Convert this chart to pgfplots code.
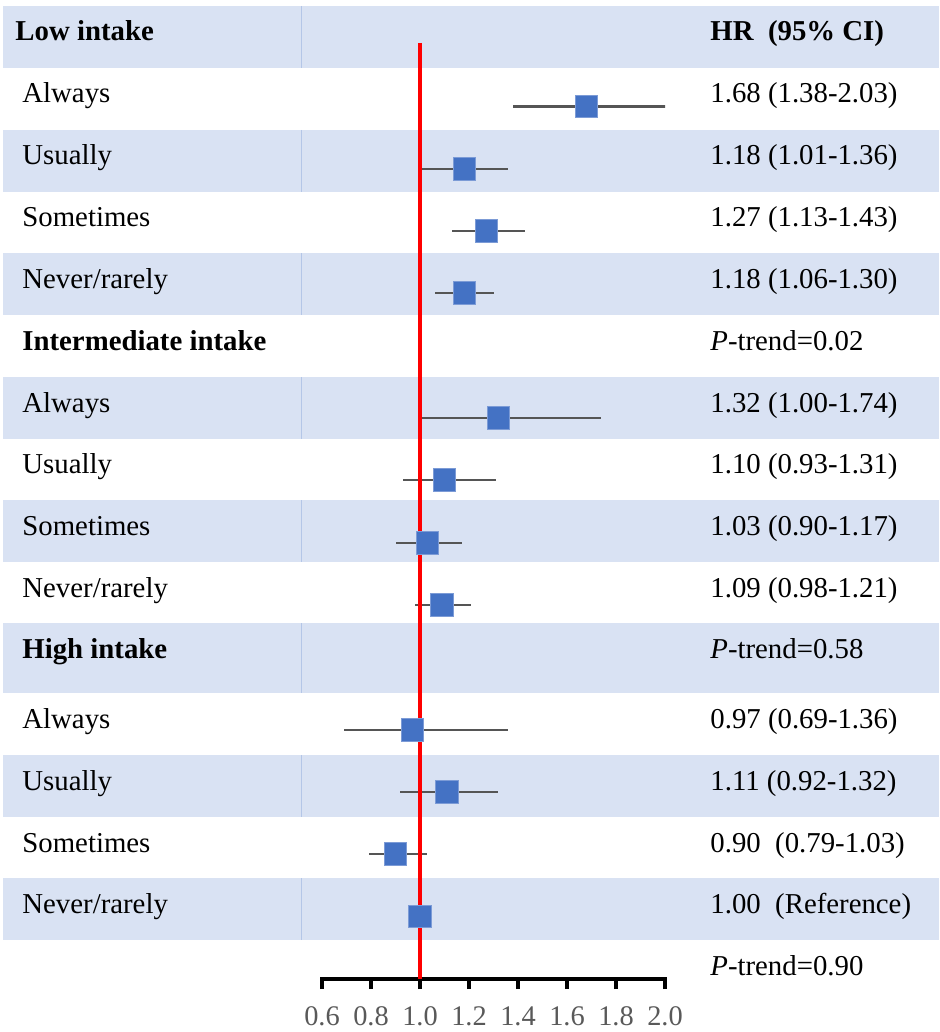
\documentclass[border=0pt]{standalone}
\usepackage{pgfplots}
\usepackage{pgfplotstable}
\pgfplotsset{compat=1.18}
\usepackage{fontspec}
\setmainfont{Liberation Serif}

\definecolor{rowshade}{HTML}{D9E2F3}
\definecolor{rowrule}{HTML}{B4C6E7}
\definecolor{markblue}{HTML}{4472C4}
\definecolor{markedge}{HTML}{7C9BD6}
\definecolor{bargray}{HTML}{555555}
\definecolor{tickgray}{HTML}{595959}

% hazard ratios: pos = vertical position of the row (from the top), hr, lower and upper CI
\pgfplotstableread{
pos    hr    lo    hi
106.5  1.68  1.38  2.03
169    1.18  1.01  1.36
231    1.27  1.13  1.43
293    1.18  1.06  1.30
418    1.32  1.00  1.74
480    1.10  0.93  1.31
543    1.03  0.90  1.17
605    1.09  0.98  1.21
730    0.97  0.69  1.36
792    1.11  0.92  1.32
854    0.90  0.79  1.03
916.5  1.00  1.00  1.00
}\hrdata

\newcommand{\rowfont}{\fontsize{14.4}{14.4}\selectfont}

\begin{document}
\begin{tikzpicture}
\useasboundingbox (0,0) rectangle (469.5pt,-516pt);

\begin{scope}[x=0.5pt,y=-0.5pt]
  % shaded table rows
  \foreach \t/\b in {6/68,130/192,253/315,377/439,500/562,623/693,755/817,878/940}{
    \fill[rowshade] (3,\t) rectangle (939,\b);
    \draw[rowrule, line width=0.5pt] (301.5,\t) -- (301.5,\b);
  }
  \begin{scope}[every node/.style={anchor=base west, inner sep=0pt, font=\rowfont}]
    % left column
    \node at (15,41)  {\bfseries Low intake};
    \node at (22,103) {Always};
    \node at (22,165) {Usually};
    \node at (22,227) {Sometimes};
    \node at (22,288) {Never/rarely};
    \node at (22,350) {\bfseries Intermediate intake};
    \node at (22,412) {Always};
    \node at (22,473) {Usually};
    \node at (22,535) {Sometimes};
    \node at (22,597) {Never/rarely};
    \node at (22,658) {\bfseries High intake};
    \node at (22,728) {Always};
    \node at (22,790) {Usually};
    \node at (22,852) {Sometimes};
    \node at (22,913) {Never/rarely};
    % right column
    \node at (710,41)  {\bfseries HR\ \ (95\% CI)};
    \node at (710,103) {1.68 (1.38-2.03)};
    \node at (710,165) {1.18 (1.01-1.36)};
    \node at (710,227) {1.27 (1.13-1.43)};
    \node at (710,288) {1.18 (1.06-1.30)};
    \node at (710,350) {\textit{P}-trend=0.02};
    \node at (710,412) {1.32 (1.00-1.74)};
    \node at (710,473) {1.10 (0.93-1.31)};
    \node at (710,535) {1.03 (0.90-1.17)};
    \node at (710,597) {1.09 (0.98-1.21)};
    \node at (710,658) {\textit{P}-trend=0.58};
    \node at (710,728) {0.97 (0.69-1.36)};
    \node at (710,790) {1.11 (0.92-1.32)};
    \node at (710,852) {0.90\ \ (0.79-1.03)};
    \node at (710,913) {1.00\ \ (Reference)};
    \node at (710,975) {\textit{P}-trend=0.90};
  \end{scope}
\end{scope}

\begin{axis}[
  at={(161pt,-489.5pt)}, anchor=south west,
  scale only axis, width=171.5pt, height=489.5pt,
  xmin=0.6, xmax=2.0, ymin=-979, ymax=0,
  axis x line=bottom, axis y line=none,
  x axis line style={line width=1.6pt, -, black, line cap=rect},
  xtick={0.6,0.8,1.0,1.2,1.4,1.6,1.8,2.0},
  xticklabels={0.6,0.8,1.0,1.2,1.4,1.6,1.8,2.0},
  /pgf/number format/assume math mode=true,
  tick align=outside, major tick length=5pt,
  every tick/.style={line width=1.6pt, black},
  xticklabel style={font=\fontsize{14.2}{14.2}\selectfont, text=tickgray,
    anchor=base, yshift=-18pt},
]
  % confidence intervals
  \addplot[only marks, mark=none,
    error bars/.cd, x dir=both, x explicit,
    error bar style={line width=1.05pt, color=bargray}, error mark=none]
    table[x=hr, y expr=-\thisrow{pos},
          x error plus expr=\thisrow{hi}-\thisrow{hr},
          x error minus expr=\thisrow{hr}-\thisrow{lo}] {\hrdata};
  % point estimates
  \addplot[only marks, mark=square*, mark size=5.6pt,
    mark options={fill=markblue, draw=markedge, line width=0.4pt}]
    table[x=hr, y expr=-\thisrow{pos}] {\hrdata};
  % line of no effect
  \addplot[red, line width=1.6pt] coordinates {(1,-43) (1,-979)};
\end{axis}
\end{tikzpicture}
\end{document}
